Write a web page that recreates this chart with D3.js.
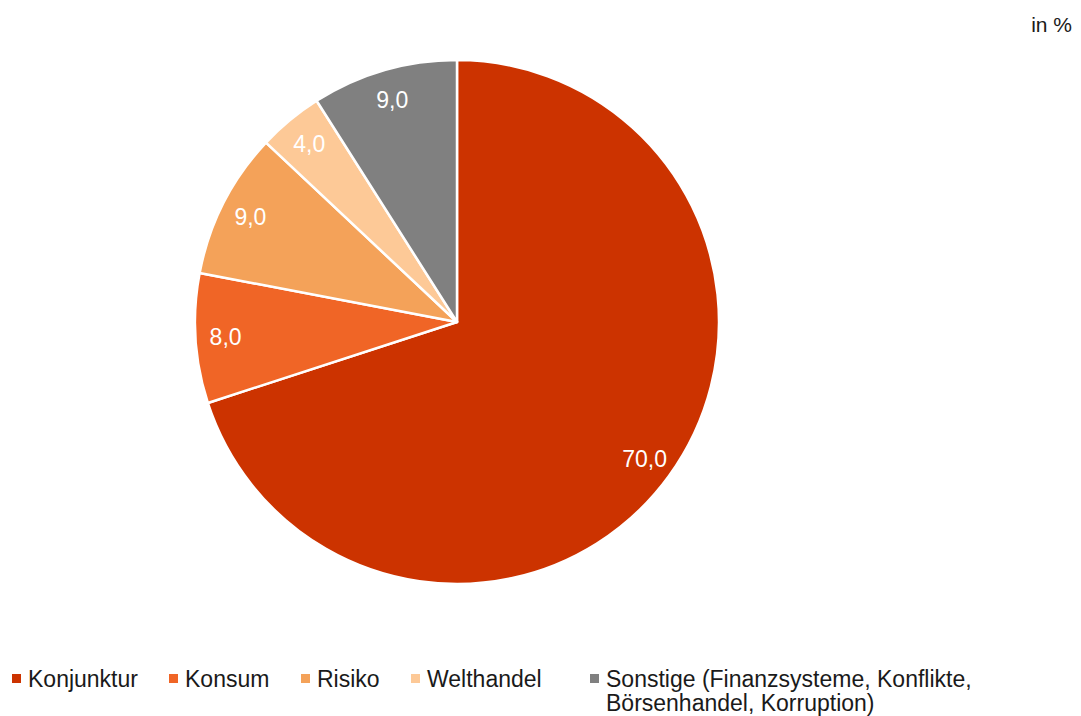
<!DOCTYPE html>
<html><head><meta charset="utf-8">
<script src="https://cdn.jsdelivr.net/npm/d3@7"></script>
<style>body{margin:0;background:#fff}svg{display:block}text{font-family:"Liberation Sans",Arial,sans-serif}</style>
</head><body>
<svg id="c" width="1081" height="716"></svg>
<script>
const categories = ["Konjunktur","Konsum","Risiko","Welthandel","Sonstige (Finanzsysteme, Konflikte, Börsenhandel, Korruption)"];
const values = [70.0, 8.0, 9.0, 4.0, 9.0];
const colors = ["#cc3300","#f06526","#f4a259","#fdc997","#808080"];
const unitLabel = "in %";

const svg = d3.select("#c");
const cx = 457, cy = 322, R = 262;
const pie = d3.pie().sort(null).value(d => d)(values);
const arc = d3.arc().innerRadius(0).outerRadius(R);
const labelArc = d3.arc().innerRadius(R*0.885).outerRadius(R*0.885);
const g = svg.append("g").attr("transform", `translate(${cx},${cy})`);
g.selectAll("path").data(pie).join("path")
  .attr("d", arc).attr("fill", (d,i) => colors[i])
  .attr("stroke", "#fff").attr("stroke-width", 2.5).attr("stroke-linejoin","round");
const fmt = v => v.toFixed(1).replace(".", ",");
g.selectAll("text.lbl").data(pie).join("text").attr("class","lbl")
  .attr("transform", d => `translate(${labelArc.centroid(d)})`)
  .attr("text-anchor","middle").attr("dy","0.36em")
  .attr("fill","#fff").attr("font-size",23)
  .text(d => fmt(d.data));

svg.append("text").attr("x",1072).attr("y",32).attr("text-anchor","end")
  .attr("font-size",21).attr("fill","#1a1a1a").text(unitLabel);

// legend
const legX = [12, 169, 301, 411, 590];
const lg = svg.append("g");
categories.forEach((c,i) => {
  lg.append("rect").attr("x", legX[i]).attr("y", 674).attr("width", 9).attr("height", 9).attr("fill", colors[i]);
  const t = lg.append("text").attr("x", legX[i]+16).attr("y", 687).attr("font-size",23).attr("fill","#1a1a1a");
  if (i === 4) {
    t.append("tspan").attr("x", legX[i]+16).text("Sonstige (Finanzsysteme, Konflikte,");
    t.append("tspan").attr("x", legX[i]+16).attr("dy", 24).text("Börsenhandel, Korruption)");
  } else t.text(c);
});
</script>
</body></html>
